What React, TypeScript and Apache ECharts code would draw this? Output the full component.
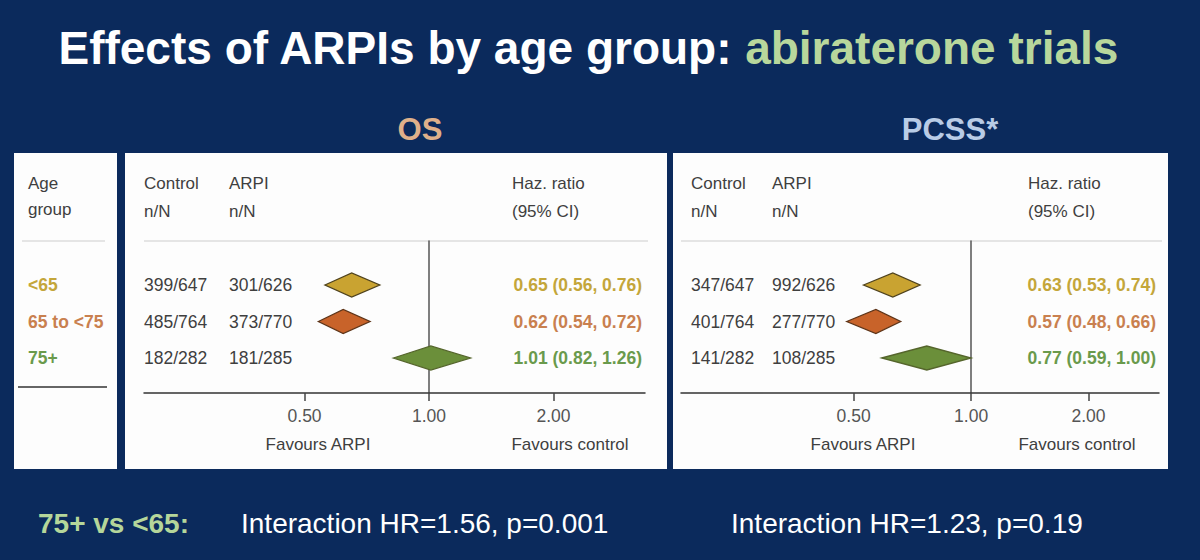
import React, { useEffect, useRef } from "react";
import * as echarts from "echarts";

// ---------- data ----------
const ageGroups = ["<65", "65 to <75", "75+"];

const osControl = ["399/647", "485/764", "182/282"];
const osArpi = ["301/626", "373/770", "181/285"];
const osHR = [0.65, 0.62, 1.01];
const osLo = [0.56, 0.54, 0.82];
const osHi = [0.76, 0.72, 1.26];

const pcssControl = ["347/647", "401/764", "141/282"];
const pcssArpi = ["992/626", "277/770", "108/285"];
const pcssHR = [0.63, 0.57, 0.77];
const pcssLo = [0.53, 0.48, 0.59];
const pcssHi = [0.74, 0.66, 1.0];

const tickValues = [0.5, 1, 2];

const titleMain = "Effects of ARPIs by age group: ";
const titleHighlight = "abiraterone trials";
const panelTitles = ["OS", "PCSS*"];
const comparisonLabel = "75+ vs <65:";
const interactionTexts = ["Interaction HR=1.56, p=0.001", "Interaction HR=1.23, p=0.19"];

// ---------- styles ----------
const FONT = '"Liberation Sans", Arial, Helvetica, sans-serif';
const BG = "#0b2a5c";
const TEXT_DARK = "#3f3f3f";
const groupText = ["#c4a63a", "#c9804f", "#6a9a4c"];
const diamondFill = ["#c9a331", "#c8632a", "#6b8f3a"];
const diamondStroke = ["#4f421c", "#5e3418", "#55652c"];

type PanelLayout = {
  left: number; right: number; min: number; max: number;
  controlX: number; arpiX: number; hrRight: number; hazX: number;
  favArpiX: number; favCtrlX: number; titleX: number;
};

const osLayout: PanelLayout = {
  left: 144, right: 645, min: -2.29, max: 1.735,
  controlX: 144, arpiX: 229, hrRight: 642, hazX: 512,
  favArpiX: 318, favCtrlX: 570, titleX: 420,
};
const pcssLayout: PanelLayout = {
  left: 681, right: 1159, min: -2.47, max: 1.6,
  controlX: 691, arpiX: 772, hrRight: 1156, hazX: 1028,
  favArpiX: 863, favCtrlX: 1077, titleX: 950,
};

const GRID_TOP = 241;
const GRID_BOTTOM = 393;
const ROW0 = 285;
const ROW_STEP = 36.5;
const yMin = (GRID_TOP - ROW0) / ROW_STEP;
const yMax = (GRID_BOTTOM - ROW0) / ROW_STEP;

const log2 = (v: number) => Math.log(v) / Math.LN2;
const fmt = (v: number) => v.toFixed(2);

function makeRender(layout: PanelLayout, control: string[], arpi: string[], hr: number[], lo: number[], hi: number[], withAge: boolean) {
  return (params: any, api: any) => {
    const i = params.dataIndex;
    const row = api.value(3);
    const pHr = api.coord([api.value(0), row]);
    const pLo = api.coord([api.value(1), row]);
    const pHi = api.coord([api.value(2), row]);
    const yc = pHr[1];
    const h = 12;
    const children: any[] = [
      {
        type: "polygon",
        shape: { points: [[pLo[0], yc], [pHr[0], yc - h], [pHi[0], yc], [pHr[0], yc + h]] },
        style: { fill: diamondFill[i], stroke: diamondStroke[i], lineWidth: 1.3 },
      },
      {
        type: "text", x: layout.controlX, y: yc,
        style: { text: control[i], fill: TEXT_DARK, font: `17.5px ${FONT}`, align: "left", verticalAlign: "middle" },
      },
      {
        type: "text", x: layout.arpiX, y: yc,
        style: { text: arpi[i], fill: TEXT_DARK, font: `17.5px ${FONT}`, align: "left", verticalAlign: "middle" },
      },
      {
        type: "text", x: layout.hrRight, y: yc,
        style: {
          text: `${fmt(hr[i])} (${fmt(lo[i])}, ${fmt(hi[i])})`,
          fill: groupText[i], font: `bold 17.5px ${FONT}`, align: "right", verticalAlign: "middle",
        },
      },
    ];
    if (withAge) {
      children.push({
        type: "text", x: 28, y: yc,
        style: { text: ageGroups[i], fill: groupText[i], font: `bold 17.5px ${FONT}`, align: "left", verticalAlign: "middle" },
      });
    }
    return { type: "group", children };
  };
}

function axisPair(idx: number, layout: PanelLayout) {
  const custom = tickValues.map(log2);
  const xAxis = {
    type: "value", gridIndex: idx, min: layout.min, max: layout.max,
    axisLine: { show: true, onZero: false, lineStyle: { color: "#333", width: 1.5 } },
    axisTick: { show: true, customValues: custom, length: 8, lineStyle: { color: "#444", width: 1.5 } },
    axisLabel: {
      show: true, customValues: custom, margin: 14,
      formatter: (v: number) => fmt(Math.pow(2, v)),
      color: "#555", fontSize: 17.5, fontFamily: FONT,
    },
    splitLine: { show: false },
  };
  const yAxis = {
    type: "value", gridIndex: idx, min: yMin, max: yMax, inverse: true,
    axisLine: { show: true, onZero: true, lineStyle: { color: "#555", width: 1.5 } },
    axisTick: { show: false }, axisLabel: { show: false }, splitLine: { show: false },
  };
  return { xAxis, yAxis };
}

function headerTexts(layout: PanelLayout) {
  const base = { fill: TEXT_DARK, font: `17px ${FONT}`, verticalAlign: "middle" };
  return [
    { type: "text", x: layout.controlX, y: 183, style: { ...base, text: "Control" } },
    { type: "text", x: layout.controlX, y: 211, style: { ...base, text: "n/N" } },
    { type: "text", x: layout.arpiX, y: 183, style: { ...base, text: "ARPI" } },
    { type: "text", x: layout.arpiX, y: 211, style: { ...base, text: "n/N" } },
    { type: "text", x: layout.hazX, y: 183, style: { ...base, text: "Haz. ratio" } },
    { type: "text", x: layout.hazX, y: 211, style: { ...base, text: "(95% CI)" } },
    {
      type: "line", shape: { x1: layout.left, y1: GRID_TOP, x2: layout.right + 3, y2: GRID_TOP },
      style: { stroke: "#dcdcdc", lineWidth: 1.5 },
    },
    { type: "text", x: layout.favArpiX, y: 444, style: { ...base, font: `17px ${FONT}`, text: "Favours ARPI", align: "center" } },
    { type: "text", x: layout.favCtrlX, y: 444, style: { ...base, font: `17px ${FONT}`, text: "Favours control", align: "center" } },
  ];
}

export default function App() {
  const ref = useRef<HTMLDivElement>(null);
  useEffect(() => {
    if (!ref.current) return;
    const chart = echarts.init(ref.current, undefined, { renderer: "svg" });
    const os = axisPair(0, osLayout);
    const pc = axisPair(1, pcssLayout);

    const option: any = {
      animation: false,
      backgroundColor: BG,
      grid: [
        { left: osLayout.left, width: osLayout.right - osLayout.left, top: GRID_TOP, height: GRID_BOTTOM - GRID_TOP },
        { left: pcssLayout.left, width: pcssLayout.right - pcssLayout.left, top: GRID_TOP, height: GRID_BOTTOM - GRID_TOP },
      ],
      xAxis: [os.xAxis, pc.xAxis],
      yAxis: [os.yAxis, pc.yAxis],
      series: [
        {
          type: "custom", name: "OS", xAxisIndex: 0, yAxisIndex: 0,
          encode: { x: [0, 1, 2], y: 3 },
          data: osHR.map((v, i) => [log2(v), log2(osLo[i]), log2(osHi[i]), i]),
          renderItem: makeRender(osLayout, osControl, osArpi, osHR, osLo, osHi, true),
          z: 5,
        },
        {
          type: "custom", name: "PCSS", xAxisIndex: 1, yAxisIndex: 1,
          encode: { x: [0, 1, 2], y: 3 },
          data: pcssHR.map((v, i) => [log2(v), log2(pcssLo[i]), log2(pcssHi[i]), i]),
          renderItem: makeRender(pcssLayout, pcssControl, pcssArpi, pcssHR, pcssLo, pcssHi, false),
          z: 5,
        },
      ],
      graphic: [
        // panels
        { type: "rect", z: -10, shape: { x: 14, y: 153, width: 103, height: 316 }, style: { fill: "#fdfdfd" } },
        { type: "rect", z: -10, shape: { x: 125, y: 153, width: 542, height: 316 }, style: { fill: "#fdfdfd" } },
        { type: "rect", z: -10, shape: { x: 673, y: 153, width: 495, height: 316 }, style: { fill: "#fdfdfd" } },
        // title
        {
          type: "text", x: 588, y: 48,
          style: {
            text: `{w|${titleMain}}{g|${titleHighlight}}`,
            align: "center", verticalAlign: "middle",
            rich: {
              w: { fill: "#ffffff", font: `bold 46px ${FONT}` },
              g: { fill: "#b8d79c", font: `bold 46px ${FONT}` },
            },
          },
        },
        { type: "text", x: osLayout.titleX, y: 129, style: { text: panelTitles[0], fill: "#dfb08a", font: `bold 31px ${FONT}`, align: "center", verticalAlign: "middle" } },
        { type: "text", x: pcssLayout.titleX, y: 129, style: { text: panelTitles[1], fill: "#b9cce6", font: `bold 31px ${FONT}`, align: "center", verticalAlign: "middle" } },
        // left panel
        { type: "text", x: 28, y: 183, style: { text: "Age", fill: TEXT_DARK, font: `17px ${FONT}`, verticalAlign: "middle" } },
        { type: "text", x: 28, y: 209, style: { text: "group", fill: TEXT_DARK, font: `17px ${FONT}`, verticalAlign: "middle" } },
        { type: "line", shape: { x1: 22, y1: GRID_TOP, x2: 105, y2: GRID_TOP }, style: { stroke: "#dcdcdc", lineWidth: 1.5 } },
        { type: "line", shape: { x1: 18, y1: 387, x2: 107, y2: 387 }, style: { stroke: "#333", lineWidth: 1.5 } },
        ...headerTexts(osLayout),
        ...headerTexts(pcssLayout),
        // bottom
        { type: "text", x: 38, y: 523, style: { text: comparisonLabel, fill: "#b5d69a", font: `bold 28px ${FONT}`, verticalAlign: "middle" } },
        { type: "text", x: 241, y: 523, style: { text: interactionTexts[0], fill: "#ffffff", font: `28px ${FONT}`, verticalAlign: "middle" } },
        { type: "text", x: 731, y: 523, style: { text: interactionTexts[1], fill: "#ffffff", font: `28px ${FONT}`, verticalAlign: "middle" } },
      ],
    };
    chart.setOption(option);
    return () => chart.dispose();
  }, []);
  return <div ref={ref} style={{ position: "fixed", left: 0, top: 0, width: 1200, height: 560 }} />;
}
